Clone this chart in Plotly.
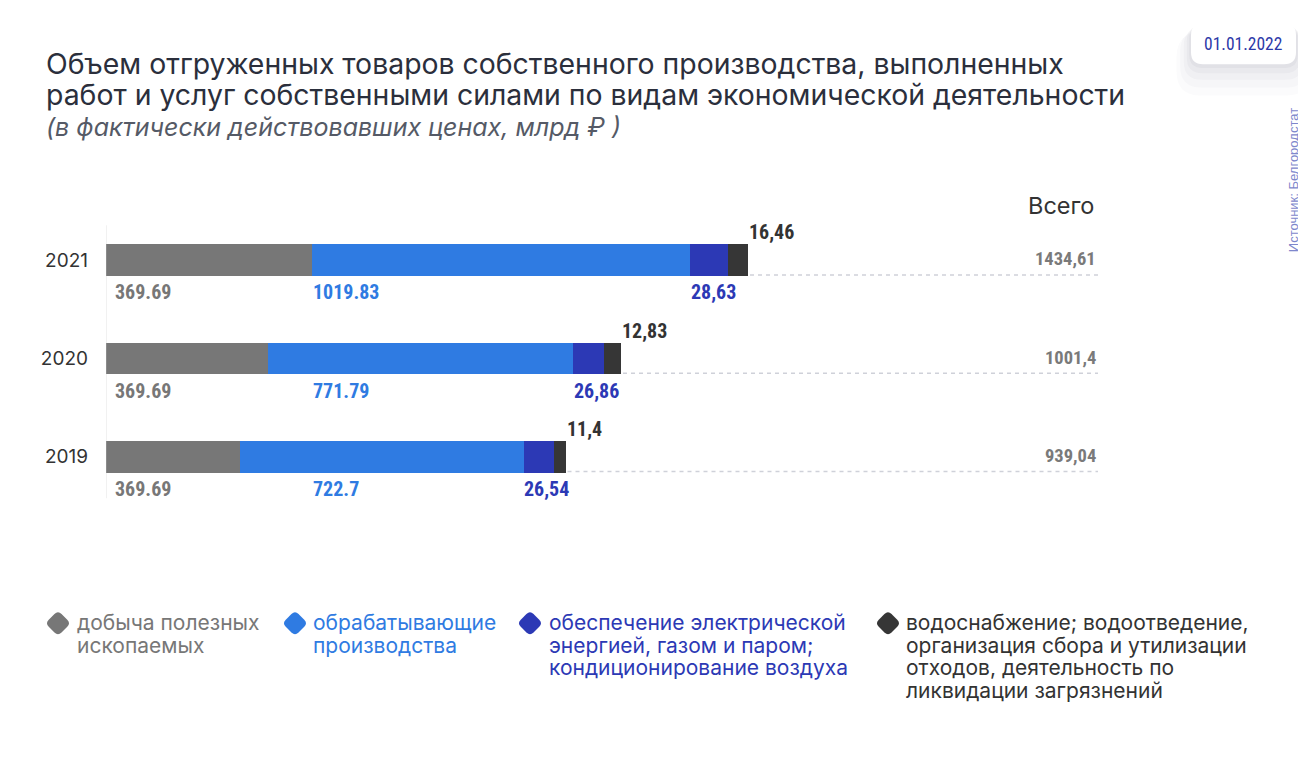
import plotly.graph_objects as go

# ---------------- data ----------------
years = ["2019", "2020", "2021"]
# bar lengths as drawn in the reference (display units)
mining_len = [134.0, 162.0, 205.5]
manuf_len = [283.5, 305.0, 378.5]
energy_len = [30.5, 30.5, 37.5]
water_len = [11.5, 17.5, 20.5]
# value labels as printed
mining_lbl = ["369.69", "369.69", "369.69"]
manuf_lbl = ["722.7", "771.79", "1019.83"]
energy_lbl = ["26,54", "26,86", "28,63"]
water_lbl = ["11,4", "12,83", "16,46"]
total_lbl = ["939,04", "1001,4", "1434,61"]

series_names = [
    ["добыча полезных", "ископаемых"],
    ["обрабатывающие", "производства"],
    ["обеспечение электрической", "энергией, газом и паром;", "кондиционирование воздуха"],
    ["водоснабжение; водоотведение,", "организация сбора и утилизации", "отходов, деятельность по", "ликвидации загрязнений"],
]
colors = ["#777777", "#2f7be2", "#2c39b5", "#363636"]
label_colors = ["#777777", "#2f7be2", "#2c39b5", "#333333"]

title_lines = [
    "Объем отгруженных товаров собственного производства, выполненных",
    "работ и услуг собственными силами по видам экономической деятельности",
]
subtitle = "(в фактически действовавших ценах, млрд ₽ )"
date_text = "01.01.2022"
source_text = "Источник: Белгородстат"
total_header = "Всего"

# ---------------- layout geometry ----------------
OFF = 8                      # page body margin of the html
W, H = 1306 - OFF, 758 - 2 * OFF
ML, MT, PH = 106 - OFF, 210.8 - OFF, 295.0
PW = W - ML
MB = H - MT - PH
X_END = 992                  # right end of the dashed guide lines (axis units)
BAR_W = 0.32

def px_x(rx):
    return (rx - OFF - ML) / PW

def px_y(ry):
    return 1 - (ry - OFF - MT) / PH

NUM_FONT = "Roboto Condensed, Liberation Sans Narrow, DejaVu Sans Condensed, Arial Narrow, Roboto"
TXT_FONT = "Inter, Roboto, Noto Sans"
NUM_SIZE = 20

def multiline(lines, glyph_size, line_gap):
    """Lines joined with <br>; outer size sets the line pitch (1.3em), spans set glyph size."""
    body = "<br>".join(f"<span style='font-size:{glyph_size}px'>{t}</span>" for t in lines)
    return body, line_gap / 1.3

fig = go.Figure()
segs = [mining_len, manuf_len, energy_len, water_len]
for s, c in zip(segs, colors):
    fig.add_trace(go.Bar(
        y=years, x=s, orientation="h", width=BAR_W,
        marker=dict(color=c, line=dict(width=0)),
        showlegend=False, hoverinfo="skip",
    ))

annotations = []
shapes = []

def num_ann(x, y, text, color, anchor, yshift, size=NUM_SIZE):
    return dict(x=x, y=y, xref="x", yref="y", text=f"<b>{text}</b>", showarrow=False,
                xanchor=anchor, yanchor="middle", yshift=yshift,
                font=dict(family=NUM_FONT, size=size, color=color))

max_mining = max(mining_len)
for i, y in enumerate(years):
    g, b, e, w = mining_len[i], manuf_len[i], energy_len[i], water_len[i]
    total = g + b + e + w
    annotations.append(num_ann(7, i, mining_lbl[i], label_colors[0], "left", -32))
    annotations.append(num_ann(max_mining - 1, i, manuf_lbl[i], label_colors[1], "left", -32))
    annotations.append(num_ann(g + b - 1.5, i, energy_lbl[i], label_colors[2], "left", -32))
    annotations.append(num_ann(total - 1, i, water_lbl[i], label_colors[3], "left", 28))
    annotations.append(num_ann(X_END, i, total_lbl[i], "#7a7a7a", "right", 1, size=NUM_SIZE - 1.5))
    shapes.append(dict(type="line", xref="x", yref="y", x0=total + 2, x1=X_END,
                       y0=i - BAR_W / 2 + 0.01, y1=i - BAR_W / 2 + 0.01,
                       line=dict(color="#cfd1d9", width=1.5, dash="4px,4px")))

# vertical axis line
shapes.append(dict(type="line", xref="x", yref="paper", x0=-0.5, x1=-0.5,
                   y0=px_y(498), y1=px_y(225), line=dict(color="#c8c8c8", width=1.5)))

# header "Всего"
annotations.append(dict(x=X_END - 2, y=px_y(205), xref="x", yref="paper", text=total_header,
                        showarrow=False, xanchor="right", yanchor="middle",
                        font=dict(family=TXT_FONT, size=23.5, color="#333333")))

# title + subtitle in one block (tight line pitch)
TITLE_PITCH = 30.8
title_body = "<br>".join(
    [f"<span style='font-size:28.4px'>{t}</span>" for t in title_lines]
    + [f"<span style='font-size:25px;color:#555a66'><i>{subtitle}</i></span>"]
)
annotations.append(dict(x=px_x(44), y=px_y(63.5 + TITLE_PITCH), xref="paper", yref="paper", text=title_body,
                        showarrow=False, xanchor="left", yanchor="middle", align="left",
                        font=dict(family=TXT_FONT, size=TITLE_PITCH / 1.3, color="#2b2f3c")))

# legend (diamond marker + wrapped text)
legend_x = [58, 295, 530, 888]
legend_text_x = [74.5, 310.5, 546.5, 903.5]
LEG_Y0, LEG_DY = 622.5, 22.6

def rdiamond(cx, cy, R, d):
    pts = [(cx, cy - R), (cx + R, cy), (cx, cy + R), (cx - R, cy)]
    n = len(pts)

    def toward(a, bpt, dist):
        dx, dy = bpt[0] - a[0], bpt[1] - a[1]
        L = (dx * dx + dy * dy) ** 0.5
        return (a[0] + dx / L * dist, a[1] + dy / L * dist)

    path = ""
    for k in range(n):
        p, q, r = pts[k - 1], pts[k], pts[(k + 1) % n]
        s1 = toward(q, p, d)
        s2 = toward(q, r, d)
        path += ("M" if k == 0 else "L") + f" {px_x(s1[0])} {px_y(s1[1])} "
        path += f"Q {px_x(q[0])} {px_y(q[1])} {px_x(s2[0])} {px_y(s2[1])} "
    return path + "Z"

for k, (names, c, lc) in enumerate(zip(series_names, colors, label_colors)):
    shapes.append(dict(type="path", xref="paper", yref="paper", path=rdiamond(legend_x[k], LEG_Y0 + 0.5, 12.8, 5),
                       fillcolor=c, line=dict(width=0)))
    l_text, l_size = multiline(names, 21, LEG_DY)
    center = LEG_Y0 + (len(names) - 1) * LEG_DY / 2
    annotations.append(dict(x=px_x(legend_text_x[k]), y=px_y(center), xref="paper", yref="paper",
                            text=l_text, showarrow=False, xanchor="left", yanchor="middle", align="left",
                            font=dict(family=TXT_FONT, size=l_size, color=lc)))

# date badge with soft shadow
def rrect(x0, y0, x1, y1, r):
    X = [px_x(v) for v in (x0, x0 + r, x1 - r, x1)]
    Y = [px_y(v) for v in (y0, y0 + r, y1 - r, y1)]
    return (f"M {X[1]} {Y[0]} L {X[2]} {Y[0]} Q {X[3]} {Y[0]} {X[3]} {Y[1]} "
            f"L {X[3]} {Y[2]} Q {X[3]} {Y[3]} {X[2]} {Y[3]} L {X[1]} {Y[3]} "
            f"Q {X[0]} {Y[3]} {X[0]} {Y[2]} L {X[0]} {Y[1]} Q {X[0]} {Y[0]} {X[1]} {Y[0]} Z")

for k, op in [(24, 0.02), (18, 0.025), (12, 0.03), (7, 0.035), (3, 0.04)]:
    shapes.append(dict(type="path", xref="paper", yref="paper", layer="below",
                       path=rrect(1191 - k * 0.6, 23 + k * 0.4, 1296 + k * 0.6, 64 + k * 1.3, 12 + k * 0.5),
                       fillcolor=f"rgba(60,60,80,{op})", line=dict(width=0)))
shapes.append(dict(type="path", xref="paper", yref="paper", layer="below",
                   path=rrect(1191, 23, 1296, 64, 12), fillcolor="#ffffff", line=dict(width=0)))
annotations.append(dict(x=px_x(1243), y=px_y(43.5), xref="paper", yref="paper", text=date_text,
                        showarrow=False, xanchor="center", yanchor="middle",
                        font=dict(family=NUM_FONT, size=17.5, color="#2c39a8")))

# source (vertical)
annotations.append(dict(x=px_x(1293), y=px_y(180), xref="paper", yref="paper", text=source_text,
                        showarrow=False, textangle=-90, xanchor="center", yanchor="middle",
                        font=dict(family="Liberation Sans, Arial, Roboto", size=13, color="#7e87cc")))

fig.update_layout(
    width=W, height=H, autosize=False,
    margin=dict(l=ML, r=0, t=MT, b=MB, pad=0),
    paper_bgcolor="#ffffff", plot_bgcolor="rgba(0,0,0,0)",
    barmode="stack", bargap=0,
    xaxis=dict(range=[0, PW], visible=False, fixedrange=True),
    yaxis=dict(type="category", categoryorder="array", categoryarray=years, range=[-0.5, 2.5],
               showgrid=False, zeroline=False, showline=False, ticks="",
               ticklabelstandoff=17,
               tickfont=dict(family=TXT_FONT, size=19, color="#333333"), fixedrange=True),
    showlegend=False,
    annotations=annotations,
    shapes=shapes,
)

fig.write_html("out.html")
